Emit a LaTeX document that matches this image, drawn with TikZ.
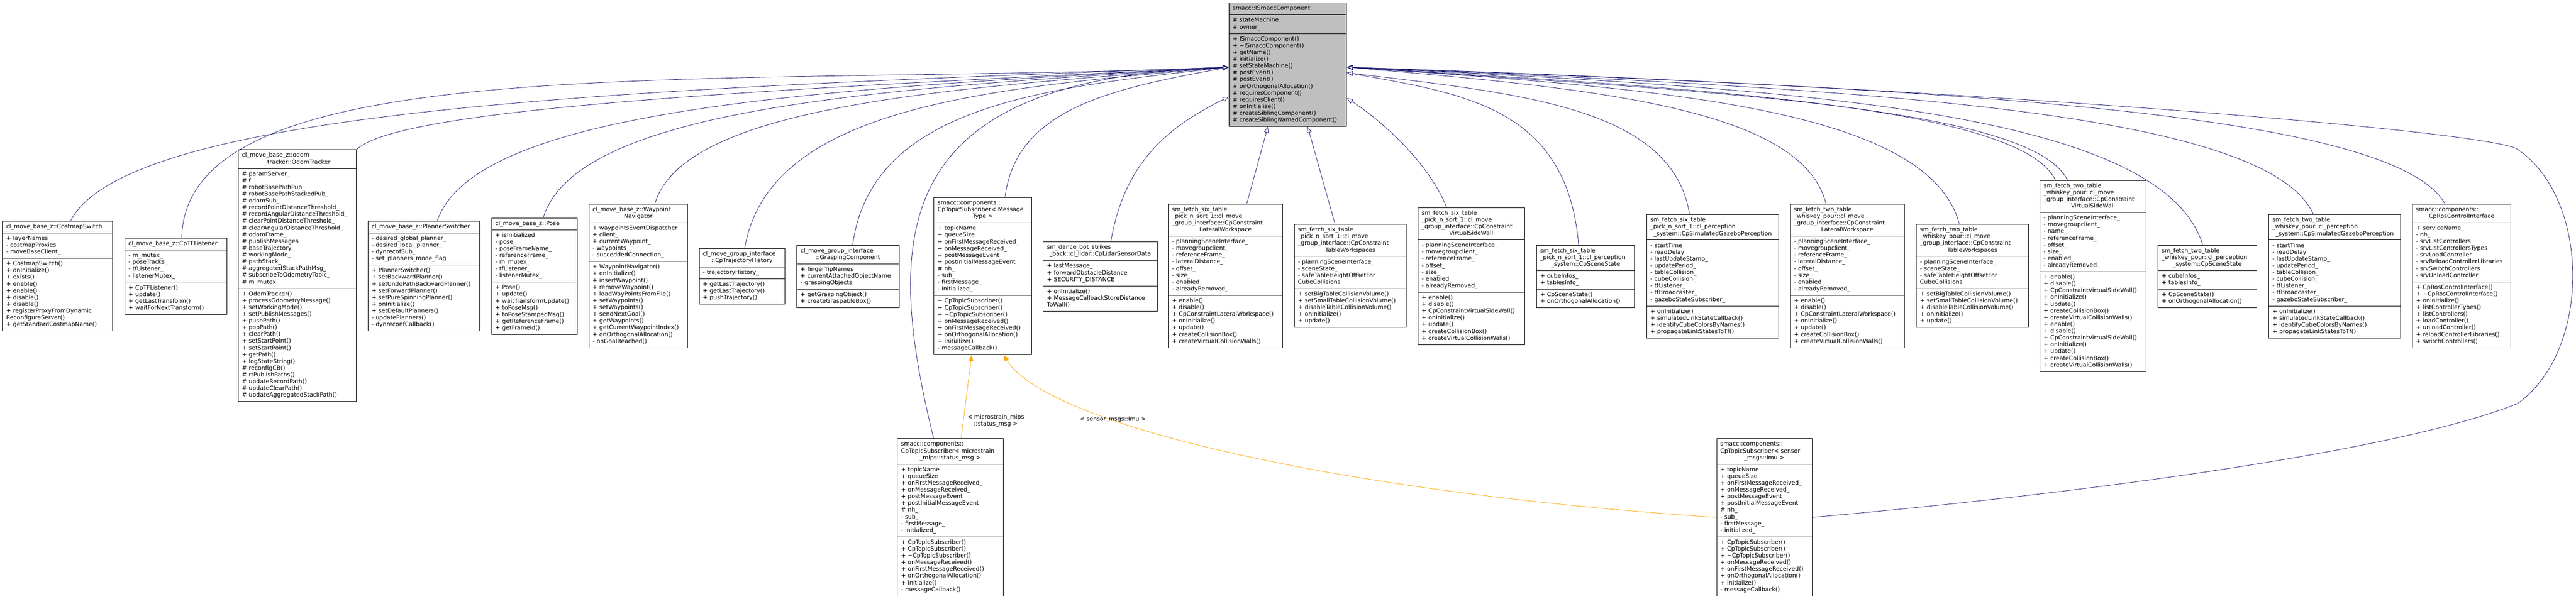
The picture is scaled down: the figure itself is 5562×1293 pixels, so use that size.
\documentclass[tikz,border=0pt]{standalone}
\usepackage{fontspec}
\setmainfont{DejaVu Sans}
\usepackage{tikz}
\usetikzlibrary{calc,shapes.multipart,arrows.meta}

\definecolor{edgeblue}{RGB}{25,25,112}
\definecolor{tmplorange}{RGB}{255,165,0}
\newcommand{\cfont}{\fontsize{12.6}{14.6}\selectfont}
\newcommand{\lastline}[1]{\makebox[\hsize]{#1\strut}}

%members shared by the CpTopicSubscriber boxes
\newcommand{\subattrs}{\strut + topicName\\+ queueSize\\+ onFirstMessageReceived\_\\+ onMessageReceived\_\\+ postMessageEvent\\+ postInitialMessageEvent\\\# nh\_\\- sub\_\\- firstMessage\_\\- initialized\_\strut}
\newcommand{\submeths}{\strut + CpTopicSubscriber()\\+ CpTopicSubscriber()\\+ \textasciitilde CpTopicSubscriber()\\+ onMessageReceived()\\+ onFirstMessageReceived()\\+ onOrthogonalAllocation()\\+ initialize()\\- messageCallback()\strut}

\begin{document}
\begin{tikzpicture}
[x=1pt,y=-1pt,
cls/.style={draw=black,line width=1pt,fill=white,rectangle split,rectangle split parts=3,anchor=north west,inner xsep=8pt,inner ysep=5pt,text width=#1,align=left,font=\cfont},
basecls/.style={cls=#1,fill=black!25},
inh/.style={draw=edgeblue,line width=0.9pt,-{Triangle[open,length=13pt,width=10pt]}},
tmpl/.style={draw=tmplorange,line width=0.9pt,-{Triangle[length=13pt,width=10pt]}},
elabel/.style={font=\cfont,align=center,inner sep=1pt}]

\useasboundingbox (0,0) rectangle (5562,1293);

%Base class
\node[basecls=238pt] (base) at (2653,6) {\centering\strut smacc::ISmaccComponent\strut
\nodepart{two}\strut\# stateMachine\_\\\# owner\_\strut
\nodepart{three}\strut + ISmaccComponent()\\+ \textasciitilde ISmaccComponent()\\+ getName()\\\# initialize()\\\# setStateMachine()\\\# postEvent()\\\# postEvent()\\\# onOrthogonalAllocation()\\\# requiresComponent()\\\# requiresClient()\\\# onInitialize()\\\# createSiblingComponent()\\\# createSiblingNamedComponent()\strut};

%Derived classes, left of the base
\node[cls=222pt] (costmap) at (5,477) {\centering\strut cl\_move\_base\_z::CostmapSwitch\strut
\nodepart{two}\strut + layerNames\\- costmapProxies\\- moveBaseClient\_\strut
\nodepart{three}\strut + CostmapSwitch()\\+ onInitialize()\\+ exists()\\+ enable()\\+ enable()\\+ disable()\\+ disable()\\+ registerProxyFromDynamic\\ReconfigureServer()\\+ getStandardCostmapName()\strut};

\node[cls=204pt] (tf) at (269,514) {\centering\strut cl\_move\_base\_z::CpTFListener\strut
\nodepart{two}\strut - m\_mutex\_\\- poseTracks\_\\- tfListener\_\\- listenerMutex\_\strut
\nodepart{three}\strut + CpTFListener()\\+ update()\\+ getLastTransform()\\+ waitForNextTransform()\strut};

\node[cls=239pt] (odom) at (514,323) {\strut cl\_move\_base\_z::odom\\\lastline{\_tracker::OdomTracker}
\nodepart{two}\strut\# paramServer\_\\\# f\\\# robotBasePathPub\_\\\# robotBasePathStackedPub\_\\\# odomSub\_\\\# recordPointDistanceThreshold\_\\\# recordAngularDistanceThreshold\_\\\# clearPointDistanceThreshold\_\\\# clearAngularDistanceThreshold\_\\\# odomFrame\_\\\# publishMessages\\\# baseTrajectory\_\\\# workingMode\_\\\# pathStack\_\\\# aggregatedStackPathMsg\_\\\# subscribeToOdometryTopic\_\\\# m\_mutex\_\strut
\nodepart{three}\strut + OdomTracker()\\+ processOdometryMessage()\\+ setWorkingMode()\\+ setPublishMessages()\\+ pushPath()\\+ popPath()\\+ clearPath()\\+ setStartPoint()\\+ setStartPoint()\\+ getPath()\\+ logStateString()\\\# reconfigCB()\\\# rtPublishPaths()\\\# updateRecordPath()\\\# updateClearPath()\\\# updateAggregatedStackPath()\strut};

\node[cls=225pt] (planner) at (794,477) {\centering\strut cl\_move\_base\_z::PlannerSwitcher\strut
\nodepart{two}\strut - desired\_global\_planner\_\\- desired\_local\_planner\_\\- dynrecofSub\_\\- set\_planners\_mode\_flag\strut
\nodepart{three}\strut + PlannerSwitcher()\\+ setBackwardPlanner()\\+ setUndoPathBackwardPlanner()\\+ setForwardPlanner()\\+ setPureSpinningPlanner()\\+ onInitialize()\\+ setDefaultPlanners()\\- updatePlanners()\\- dynreconfCallback()\strut};

\node[cls=169pt] (pose) at (1061,470) {\centering\strut cl\_move\_base\_z::Pose\strut
\nodepart{two}\strut + isInitialized\\- pose\_\\- poseFrameName\_\\- referenceFrame\_\\- m\_mutex\_\\- tfListener\_\\- listenerMutex\_\strut
\nodepart{three}\strut + Pose()\\+ update()\\+ waitTransformUpdate()\\+ toPoseMsg()\\+ toPoseStampedMsg()\\+ getReferenceFrame()\\+ getFrameId()\strut};

\node[cls=197pt] (waypoint) at (1271,440) {\strut cl\_move\_base\_z::Waypoint\\\lastline{Navigator}
\nodepart{two}\strut + waypointsEventDispatcher\\+ client\_\\+ currentWaypoint\_\\- waypoints\_\\- succeddedConnection\_\strut
\nodepart{three}\strut + WaypointNavigator()\\+ onInitialize()\\+ insertWaypoint()\\+ removeWaypoint()\\+ loadWayPointsFromFile()\\+ setWaypoints()\\+ setWaypoints()\\+ sendNextGoal()\\+ getWaypoints()\\+ getCurrentWaypointIndex()\\+ onOrthogonalAllocation()\\- onGoalReached()\strut};

\node[cls=169pt] (trajhist) at (1509,536) {\strut cl\_move\_group\_interface\\\lastline{::CpTrajectoryHistory}
\nodepart{two}\strut - trajectoryHistory\_\strut
\nodepart{three}\strut + getLastTrajectory()\\+ getLastTrajectory()\\+ pushTrajectory()\strut};

\node[cls=205pt] (grasp) at (1720,529) {\strut cl\_move\_group\_interface\\\lastline{::GraspingComponent}
\nodepart{two}\strut + fingerTipNames\\+ currentAttachedObjectName\\- graspingObjects\strut
\nodepart{three}\strut + getGraspingObject()\\+ createGraspableBox()\strut};

\node[cls=195pt] (topicsub) at (2016,426) {\strut smacc::components::\\CpTopicSubscriber< Message\\\lastline{Type >}
\nodepart{two}\subattrs
\nodepart{three}\submeths};

\node[cls=230pt] (lidar) at (2252,522) {\strut sm\_dance\_bot\_strikes\\\lastline{\_back::cl\_lidar::CpLidarSensorData}
\nodepart{two}\strut + lastMessage\_\\+ forwardObstacleDistance\\+ SECURITY\_DISTANCE\strut
\nodepart{three}\strut + onInitialize()\\+ MessageCallbackStoreDistance\\ToWall()\strut};

%Derived classes, below and right of the base
\node[cls=231pt] (lat6) at (2522,440) {\strut sm\_fetch\_six\_table\\\_pick\_n\_sort\_1::cl\_move\\\_group\_interface::CpConstraint\\\lastline{LateralWorkspace}
\nodepart{two}\strut - planningSceneInterface\_\\- movegroupclient\_\\- referenceFrame\_\\- lateralDistance\_\\- offset\_\\- size\_\\- enabled\_\\- alreadyRemoved\_\strut
\nodepart{three}\strut + enable()\\+ disable()\\+ CpConstraintLateralWorkspace()\\+ onInitialize()\\+ update()\\+ createCollisionBox()\\+ createVirtualCollisionWalls()\strut};

\node[cls=226pt] (table6) at (2794,484) {\strut sm\_fetch\_six\_table\\\_pick\_n\_sort\_1::cl\_move\\\_group\_interface::CpConstraint\\\lastline{TableWorkspaces}
\nodepart{two}\strut - planningSceneInterface\_\\- sceneState\_\\- safeTableHeightOffsetFor\\CubeCollisions\strut
\nodepart{three}\strut + setBigTableCollisionVolume()\\+ setSmallTableCollisionVolume()\\+ disableTableCollisionVolume()\\+ onInitialize()\\+ update()\strut};

\node[cls=214pt] (virt6) at (3061,448) {\strut sm\_fetch\_six\_table\\\_pick\_n\_sort\_1::cl\_move\\\_group\_interface::CpConstraint\\\lastline{VirtualSideWall}
\nodepart{two}\strut - planningSceneInterface\_\\- movegroupclient\_\\- referenceFrame\_\\- offset\_\\- size\_\\- enabled\_\\- alreadyRemoved\_\strut
\nodepart{three}\strut + enable()\\+ disable()\\+ CpConstraintVirtualSideWall()\\+ onInitialize()\\+ update()\\+ createCollisionBox()\\+ createVirtualCollisionWalls()\strut};

\node[cls=196pt] (scene6) at (3317,529) {\strut sm\_fetch\_six\_table\\\_pick\_n\_sort\_1::cl\_perception\\\lastline{\_system::CpSceneState}
\nodepart{two}\strut + cubeInfos\_\\+ tablesInfo\_\strut
\nodepart{three}\strut + CpSceneState()\\+ onOrthogonalAllocation()\strut};

\node[cls=269pt] (gaz6) at (3555,463) {\strut sm\_fetch\_six\_table\\\_pick\_n\_sort\_1::cl\_perception\\\lastline{\_system::CpSimulatedGazeboPerception}
\nodepart{two}\strut - startTime\\- readDelay\\- lastUpdateStamp\_\\- updatePeriod\_\\- tableCollision\_\\- cubeCollision\_\\- tfListener\_\\- tfBroadcaster\_\\- gazeboStateSubscriber\_\strut
\nodepart{three}\strut + onInitialize()\\+ simulatedLinkStateCallback()\\+ identifyCubeColorsByNames()\\+ propagateLinkStatesToTf()\strut};

\node[cls=230pt] (lat2) at (3865,440) {\strut sm\_fetch\_two\_table\\\_whiskey\_pour::cl\_move\\\_group\_interface::CpConstraint\\\lastline{LateralWorkspace}
\nodepart{two}\strut - planningSceneInterface\_\\- movegroupclient\_\\- referenceFrame\_\\- lateralDistance\_\\- offset\_\\- size\_\\- enabled\_\\- alreadyRemoved\_\strut
\nodepart{three}\strut + enable()\\+ disable()\\+ CpConstraintLateralWorkspace()\\+ onInitialize()\\+ update()\\+ createCollisionBox()\\+ createVirtualCollisionWalls()\strut};

\node[cls=226pt] (table2) at (4137,484) {\strut sm\_fetch\_two\_table\\\_whiskey\_pour::cl\_move\\\_group\_interface::CpConstraint\\\lastline{TableWorkspaces}
\nodepart{two}\strut - planningSceneInterface\_\\- sceneState\_\\- safeTableHeightOffsetFor\\CubeCollisions\strut
\nodepart{three}\strut + setBigTableCollisionVolume()\\+ setSmallTableCollisionVolume()\\+ disableTableCollisionVolume()\\+ onInitialize()\\+ update()\strut};

\node[cls=213pt] (virt2) at (4404,389) {\strut sm\_fetch\_two\_table\\\_whiskey\_pour::cl\_move\\\_group\_interface::CpConstraint\\\lastline{VirtualSideWall}
\nodepart{two}\strut - planningSceneInterface\_\\- movegroupclient\_\\- name\_\\- referenceFrame\_\\- offset\_\\- size\_\\- enabled\_\\- alreadyRemoved\_\strut
\nodepart{three}\strut + enable()\\+ disable()\\+ CpConstraintVirtualSideWall()\\+ onInitialize()\\+ update()\\+ createCollisionBox()\\+ createVirtualCollisionWalls()\\+ enable()\\+ disable()\\+ CpConstraintVirtualSideWall()\\+ onInitialize()\\+ update()\\+ createCollisionBox()\\+ createVirtualCollisionWalls()\strut};

\node[cls=197pt] (scene2) at (4659,529) {\strut sm\_fetch\_two\_table\\\_whiskey\_pour::cl\_perception\\\lastline{\_system::CpSceneState}
\nodepart{two}\strut + cubeInfos\_\\+ tablesInfo\_\strut
\nodepart{three}\strut + CpSceneState()\\+ onOrthogonalAllocation()\strut};

\node[cls=269pt] (gaz2) at (4898,463) {\strut sm\_fetch\_two\_table\\\_whiskey\_pour::cl\_perception\\\lastline{\_system::CpSimulatedGazeboPerception}
\nodepart{two}\strut - startTime\\- readDelay\\- lastUpdateStamp\_\\- updatePeriod\_\\- tableCollision\_\\- cubeCollision\_\\- tfListener\_\\- tfBroadcaster\_\\- gazeboStateSubscriber\_\strut
\nodepart{three}\strut + onInitialize()\\+ simulatedLinkStateCallback()\\+ identifyCubeColorsByNames()\\+ propagateLinkStatesToTf()\strut};

\node[cls=197pt] (ros) at (5208,440) {\strut smacc::components::\\\lastline{CpRosControlInterface}
\nodepart{two}\strut + serviceName\_\\- nh\_\\- srvListControllers\\- srvListControllersTypes\\- srvLoadController\\- srvReloadControllerLibraries\\- srvSwitchControllers\\- srvUnloadController\strut
\nodepart{three}\strut + CpRosControlInterface()\\+ \textasciitilde CpRosControlInterface()\\+ onInitialize()\\+ listControllerTypes()\\+ listControllers()\\+ loadController()\\+ unloadController()\\+ reloadControllerLibraries()\\+ switchControllers()\strut};

%Template instances
\node[cls=213pt] (micro) at (1937,947) {\strut smacc::components::\\CpTopicSubscriber< microstrain\\\lastline{\_mips::status\_msg >}
\nodepart{two}\subattrs
\nodepart{three}\submeths};

\node[cls=190pt] (sensor) at (3706,947) {\strut smacc::components::\\CpTopicSubscriber< sensor\\\lastline{\_msgs::Imu >}
\nodepart{two}\subattrs
\nodepart{three}\submeths};

%Arrow ends on the base
\coordinate (baseL) at ($(base.north west)+(0,139)$);
\coordinate (baseL2) at ($(base.north west)+(0,203)$);
\coordinate (baseR) at ($(base.north east)+(0,139)$);
\coordinate (baseR2) at ($(base.north east)+(0,151)$);
\coordinate (baseR3) at ($(base.north east)+(0,206)$);
\coordinate (baseS1) at ($(base.south)+(-43,0)$);
\coordinate (baseS2) at ($(base.south)+(43,0)$);

%Drawing inheritance arrows
\draw[inh] ($(costmap.north)+(28,0)$) .. controls +(125,-247) and +(-1250,45) .. (baseL);
\draw[inh] ($(tf.north)+(13,0)$) .. controls +(7,-414) and +(-1130,45) .. (baseL);
\draw[inh] (odom.north east) .. controls +(94,-93) and +(-940,45) .. (baseL);
\draw[inh] ($(planner.north)+(29,0)$) .. controls +(85,-247) and +(-855,45) .. (baseL);
\draw[inh] ($(pose.north)+(19,0)$) .. controls +(74,-240) and +(-740,45) .. (baseL);
\draw[inh] ($(waypoint.north)+(36,0)$) .. controls +(62,-210) and +(-620,45) .. (baseL);
\draw[inh] ($(trajhist.north)+(6,0)$) .. controls +(52,-306) and +(-522,45) .. (baseL);
\draw[inh] ($(grasp.north)+(10,0)$) .. controls +(41,-299) and +(-406,45) .. (baseL);
\draw[inh] ($(topicsub.north)+(48,0)$) .. controls +(24,-196) and +(-240,45) .. (baseL);
\draw[inh] ($(micro.north)+(-36,0)$) .. controls +(-116,-467) and +(-713,25) .. (baseL);
\draw[inh] ($(lidar.north)+(23,0)$) .. controls +(30,-180) and +(-120,60) .. (baseL2);
\draw[inh] ($(lat6.north)+(46,0)$) -- (baseS1);
\draw[inh] ($(table6.north)+(-33,0)$) -- (baseS2);
\draw[inh] ($(virt6.north)+(-53,0)$) .. controls +(-40,-100) and +(70,45) .. (baseR3);
\draw[inh] ($(scene6.north)+(-15,0)$) .. controls +(-25,-299) and +(250,45) .. (baseR2);
\draw[inh] ($(gaz6.north)+(-50,0)$) .. controls +(-37,-233) and +(370,45) .. (baseR2);
\draw[inh] ($(lat2.north)+(-46,0)$) .. controls +(-52,-210) and +(517,45) .. (baseR);
\draw[inh] ($(table2.north)+(-28,0)$) .. controls +(-66,-254) and +(661,45) .. (baseR);
\draw[inh] ($(virt2.north)+(-81,0)$) .. controls +(-77,-159) and +(765,45) .. (baseR);
\draw[inh] ($(virt2.north)+(-55,0)$) .. controls +(-78,-159) and +(778,52) .. (baseR);
\draw[inh] ($(scene2.north)+(-10,0)$) .. controls +(-92,-299) and +(924,45) .. (baseR);
\draw[inh] ($(gaz2.north)+(-46,0)$) .. controls +(-104,-233) and +(1043,45) .. (baseR);
\draw[inh] ($(ros.north)+(-36,0)$) .. controls +(-119,-210) and +(1185,45) .. (baseR);
\draw[inh] (sensor.east) .. controls (4400,1075) and (5150,985) .. (5435,872) .. controls (5595,760) and (5595,430) .. (5435,322) .. controls (5380,285) and (4300,190) .. (baseR);

%Drawing template arrows
\draw[tmpl] ($(micro.north)+(23,0)$) -- ($(topicsub.south)+(-24,0)$);
\draw[tmpl] (sensor.west) .. controls +(-806,-53) and +(93,153) .. ($(topicsub.south)+(45,0)$);
\node[elabel] (lblmicro) at (2150,909) {< microstrain\_mips\\::status\_msg >};
\node[elabel] (lblsensor) at (2403,906) {< sensor\_msgs::Imu >};

\end{tikzpicture}
\end{document}
